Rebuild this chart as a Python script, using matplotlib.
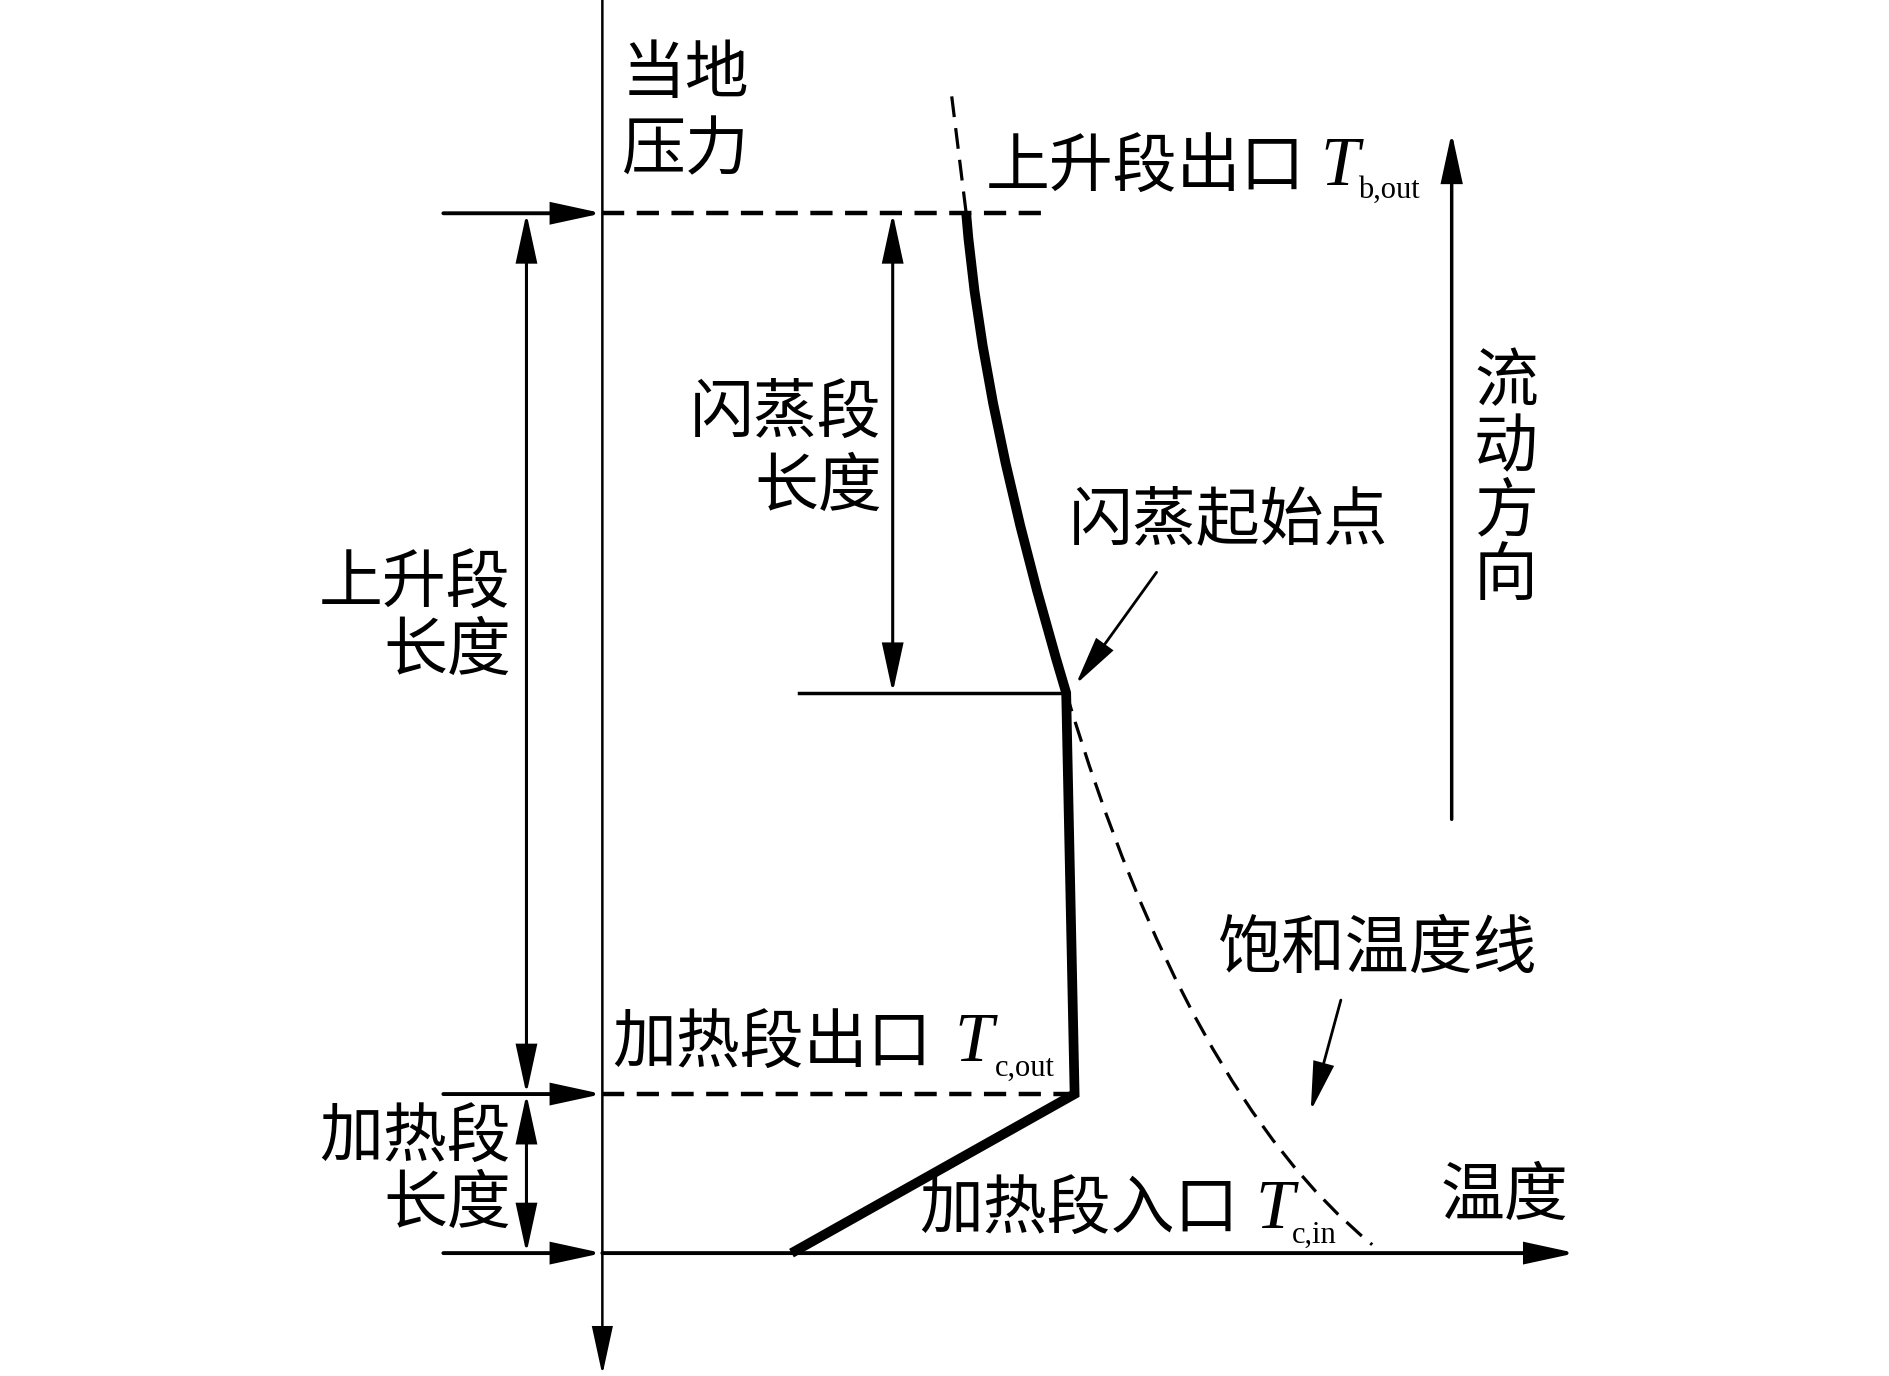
import matplotlib
matplotlib.use("Agg")
import matplotlib.pyplot as plt
from matplotlib.patches import FancyArrowPatch, PathPatch
from matplotlib.path import Path

plt.rcParams['lines.scale_dashes'] = False
CJK = ['Noto Sans CJK SC', 'DejaVu Sans']
SERIF = ['Liberation Serif', 'DejaVu Serif']

# niveles (coordenadas del esquema, y hacia abajo)
x_eje = 500
y_salida = 177      # salida del tramo ascendente
y_flash = 575       # inicio del flasheo
y_calor = 908       # salida del tramo de calentamiento
y_entrada = 1040    # entrada del tramo de calentamiento

# puntos del perfil del fluido: entrada, salida calentamiento, inicio flasheo, salida
entrada = (657, 1040)
salida_calor = (892, 908)
inicio_flash = (885, 575)
salida = (802, 177)
ctrl_flash = (815, 342)        # punto de control del tramo curvo (flasheo)

# linea de saturacion: tramo superior y tramo inferior
sat_arriba = (790, 80)
sat_abajo = (1139, 1033)
ctrl_sat = (985, 908)

fig = plt.figure(figsize=(18.89, 13.76), dpi=100)
ax = fig.add_axes([0, 0, 1, 1])
ax.set_xlim(0, 1568)
ax.set_ylim(1142, 0)
ax.axis('off')


def flecha(p0, p1, estilo='-|>', lw=2.0, hl=30, hw=6.5):
    ax.add_patch(FancyArrowPatch(p0, p1, arrowstyle=f'{estilo},head_length={hl},head_width={hw}',
                                 mutation_scale=1, lw=lw, color='k', shrinkA=0, shrinkB=0,
                                 joinstyle='miter'))


# ejes
flecha((x_eje, 0), (x_eje, 1141), lw=1.8)
flecha((x_eje, y_entrada), (1308, y_entrada), lw=2.8)

# flechas de entrada al eje
for yy in [y_salida, y_calor, y_entrada]:
    flecha((368, yy), (x_eje, yy), lw=2.8)

# lineas discontinuas horizontales
ax.plot([x_eje, 870], [y_salida, y_salida], color='k', lw=3.2, dashes=(16, 9))
ax.plot([x_eje, 888], [y_calor, y_calor], color='k', lw=3.2, dashes=(16, 9))
ax.plot([663, 885], [y_flash, y_flash], color='k', lw=2.5)

# cotas
flecha((437, y_salida), (437, y_calor), estilo='<|-|>', lw=2.2)
flecha((437, y_calor), (437, y_entrada), estilo='<|-|>', lw=2.2)
flecha((741, y_salida), (741, y_flash), estilo='<|-|>', lw=2.2)

# linea de saturacion (discontinua)
sat = Path([sat_arriba, salida, ctrl_flash, inicio_flash, ctrl_sat, sat_abajo],
           [Path.MOVETO, Path.LINETO, Path.CURVE3, Path.CURVE3, Path.CURVE3, Path.CURVE3])
ax.add_patch(PathPatch(sat, fill=False, lw=2.3, ec='k', linestyle=(0, (15, 8))))

# perfil de temperatura (linea gruesa)
perfil = Path([entrada, salida_calor, inicio_flash, ctrl_flash, salida],
              [Path.MOVETO, Path.LINETO, Path.LINETO, Path.CURVE3, Path.CURVE3])
ax.add_patch(PathPatch(perfil, fill=False, lw=7, ec='k', joinstyle='miter', capstyle='butt'))

# direccion de flujo
flecha((1205, 680), (1205, 110), lw=2.5)

# flechas de anotacion
flecha((960, 475), (893, 568), lw=2.0)
flecha((1113, 830), (1088, 922), lw=2.0)

fs = 46
def txt(x, y, s, ha='left'):
    ax.text(x, y, s, fontsize=fs, family=CJK, ha=ha, va='center')

txt(516, 62, '当地')
txt(516, 125, '压力')
txt(818, 140, '上升段出口')
ax.text(1096, 140, 'T', fontsize=50, family=SERIF, style='italic', ha='left', va='center')
ax.text(1127, 158, 'b,out', fontsize=22, family=SERIF, ha='left', va='center')
txt(732, 343, '闪蒸段', ha='right')
txt(732, 405, '长度', ha='right')
txt(424, 485, '上升段', ha='right')
txt(424, 541, '长度', ha='right')
txt(1020, 432, '闪蒸起始点', ha='center')
for i, ch in enumerate('流动方向'):
    txt(1250, 318 + 53.5 * i, ch, ha='center')
txt(1010, 788, '饱和温度线')
txt(508, 867, '加热段出口')
ax.text(792, 867, 'T', fontsize=50, family=SERIF, style='italic', ha='left', va='center')
ax.text(826, 887, 'c,out', fontsize=22, family=SERIF, ha='left', va='center')
txt(424, 945, '加热段', ha='right')
txt(424, 1000, '长度', ha='right')
txt(763, 1005, '加热段入口')
ax.text(1042, 1005, 'T', fontsize=50, family=SERIF, style='italic', ha='left', va='center')
ax.text(1072, 1025, 'c,in', fontsize=22, family=SERIF, ha='left', va='center')
txt(1196, 993, '温度')

fig.savefig('out.png', dpi=100)
